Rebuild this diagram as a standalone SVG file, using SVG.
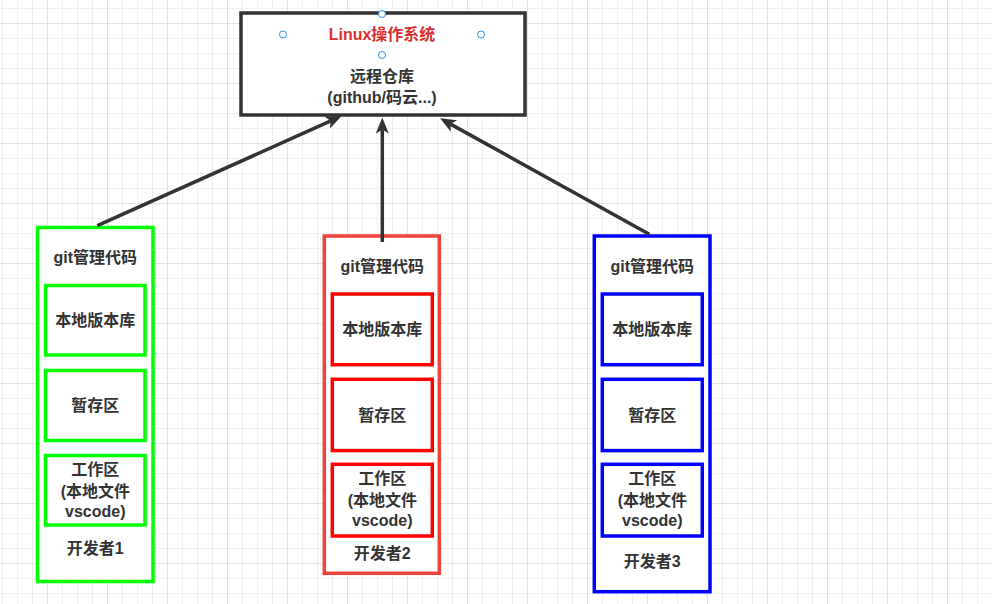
<svg xmlns="http://www.w3.org/2000/svg" width="992" height="604" viewBox="0 0 992 604">
<defs>
<pattern id="gMinor" patternUnits="userSpaceOnUse" x="2" y="8" width="15" height="15">
<path d="M0.5 0V15M0 0.5H15" stroke="#efefef" stroke-width="1" fill="none"/>
</pattern>
<pattern id="gMajor" patternUnits="userSpaceOnUse" x="47" y="23" width="60" height="60">
<path d="M0.5 0V60M0 0.5H60" stroke="#e2e2e2" stroke-width="1" fill="none"/>
</pattern>
<marker id="arr" markerUnits="userSpaceOnUse" markerWidth="18" markerHeight="14" refX="4" refY="6.5" orient="auto" viewBox="0 0 18 14">
<path d="M0,0 L16,6.5 L0,13 L4,6.5 Z" fill="#333333"/>
</marker>
<style>
text{font-family:"Liberation Sans","Noto Sans CJK SC",sans-serif;font-size:16px;font-weight:bold;fill:#333333;text-anchor:middle}
.red{fill:#d9302c}
.box{fill:#ffffff}
.g{stroke:#00ff00;stroke-width:3.5}
.r{stroke:#ff0000;stroke-width:3.5}
.ro{stroke:#f0413a;stroke-width:3.5}
.b{stroke:#0000ff;stroke-width:3.5}
.edge{stroke:#333333;stroke-width:3.5;fill:none;marker-end:url(#arr)}
.h{fill:#ffffff;stroke:#2a8cf0;stroke-width:1}
</style>
</defs>
<rect width="992" height="604" fill="#ffffff"/>
<rect width="992" height="604" fill="url(#gMinor)"/>
<rect width="992" height="604" fill="url(#gMajor)"/>

<g id="remote">
<rect x="241" y="13" width="284" height="102" fill="#ffffff" stroke="#333333" stroke-width="3.5"/>
<text x="382" y="40" class="red">Linux操作系统</text>
<text x="382" y="81.5">远程仓库</text>
<text x="382" y="102.5">(github/码云...)</text>
<circle class="h" cx="382" cy="14" r="3.5"/>
<circle class="h" cx="283" cy="34.5" r="3.5"/>
<circle class="h" cx="481" cy="34.5" r="3.5"/>
<circle class="h" cx="382" cy="55" r="3.5"/>
</g>

<g id="dev1">
<rect x="37.5" y="227.5" width="115.5" height="354" class="box g"/>
<text x="95.3" y="263">git管理代码</text>
<g id="dev1-repo"><rect x="45.5" y="285.5" width="99.5" height="69.5" class="box g"/><text x="95.3" y="325.5">本地版本库</text></g>
<g id="dev1-stage"><rect x="45.5" y="370.5" width="99.5" height="70" class="box g"/><text x="95.3" y="411">暂存区</text></g>
<g id="dev1-work"><rect x="45.5" y="455.5" width="99.5" height="69.5" class="box g"/>
<text x="95.3" y="474.8">工作区</text><text x="95.3" y="496.5">(本地文件</text><text x="95.3" y="517">vscode)</text></g>
<text x="95.3" y="553.8">开发者1</text>
</g>

<g id="dev2">
<rect x="324.3" y="236" width="115" height="337.3" class="box ro"/>
<text x="382.3" y="272">git管理代码</text>
<g id="dev2-repo"><rect x="332.3" y="294" width="100" height="70.7" class="box r"/><text x="382.3" y="334.8">本地版本库</text></g>
<g id="dev2-stage"><rect x="332.3" y="379.3" width="100" height="71.3" class="box r"/><text x="382.3" y="420.5">暂存区</text></g>
<g id="dev2-work"><rect x="332.3" y="464.3" width="100" height="71.7" class="box r"/>
<text x="382.3" y="483.8">工作区</text><text x="382.3" y="505.5">(本地文件</text><text x="382.3" y="525.5">vscode)</text></g>
<text x="382.3" y="558.8">开发者2</text>
</g>

<g id="dev3">
<rect x="594.3" y="236" width="115.7" height="355.7" class="box b"/>
<text x="652.3" y="272">git管理代码</text>
<g id="dev3-repo"><rect x="602.3" y="294" width="100" height="70.7" class="box b"/><text x="652.3" y="334.8">本地版本库</text></g>
<g id="dev3-stage"><rect x="602.3" y="379.3" width="100" height="71.3" class="box b"/><text x="652.3" y="420.5">暂存区</text></g>
<g id="dev3-work"><rect x="602.3" y="464.3" width="100" height="71.7" class="box b"/>
<text x="652.3" y="483.8">工作区</text><text x="652.3" y="505.5">(本地文件</text><text x="652.3" y="525.5">vscode)</text></g>
<text x="652.3" y="567.2">开发者3</text>
</g>

<g id="connectors">
<line class="edge" x1="97.3" y1="225.7" x2="330.8" y2="120.9"/>
<line class="edge" x1="382.3" y1="242" x2="382.3" y2="129.5"/>
<line class="edge" x1="649.3" y1="234.3" x2="450.5" y2="124.1"/>
</g>
</svg>
